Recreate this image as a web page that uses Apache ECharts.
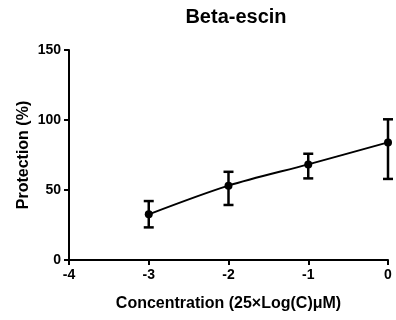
<!DOCTYPE html>
<html>
<head>
<meta charset="utf-8">
<script src="https://cdn.jsdelivr.net/npm/echarts@6/dist/echarts.min.js"></script>
<style>
  html, body { margin: 0; padding: 0; background: #fff; }
  #chart { width: 396px; height: 320px; }
</style>
</head>
<body>
<div id="chart"></div>
<script>
const concentration = [-3, -2, -1, 0]
const protection = [32.6, 53.1, 68.3, 84.0]
const errUpper = [42.1, 63.0, 75.9, 100.5]
const errLower = [23.3, 39.3, 58.3, 57.9]

const font = 'Liberation Sans, Arial, sans-serif'
const chart = echarts.init(document.getElementById('chart'))

const option = {
  backgroundColor: '#ffffff',
  animation: false,
  title: {
    text: 'Beta-escin',
    left: 231,
    top: 2,
    textAlign: 'center',
    textStyle: { fontFamily: font, fontWeight: 'bold', fontSize: 20, color: '#000' }
  },
  grid: { left: 69, right: 8, top: 50, bottom: 60 },
  xAxis: {
    type: 'value',
    min: -4,
    max: 0,
    interval: 1,
    name: 'Concentration (25×Log(C)μM)',
    nameLocation: 'middle',
    nameGap: 36,
    nameMoveOverlap: false,
    nameTextStyle: { fontFamily: font, fontWeight: 'bold', fontSize: 16, color: '#000' },
    axisLine: { onZero: false, lineStyle: { color: '#000', width: 2 } },
    axisTick: { length: 5, lineStyle: { color: '#000', width: 2 } },
    axisLabel: { fontFamily: font, fontWeight: 'bold', fontSize: 14, color: '#000', margin: 8 },
    splitLine: { show: false }
  },
  yAxis: {
    type: 'value',
    min: 0,
    max: 150,
    interval: 50,
    name: 'Protection (%)',
    nameLocation: 'middle',
    nameGap: 37,
    nameMoveOverlap: false,
    nameTextStyle: { fontFamily: font, fontWeight: 'bold', fontSize: 16, color: '#000' },
    axisLine: { show: true, onZero: false, lineStyle: { color: '#000', width: 2 } },
    axisTick: { show: true, length: 5, lineStyle: { color: '#000', width: 2 } },
    axisLabel: { fontFamily: font, fontWeight: 'bold', fontSize: 14, color: '#000', margin: 8 },
    splitLine: { show: false }
  },
  series: [
    {
      type: 'line',
      smooth: 0.3,
      symbol: 'circle',
      symbolSize: 8,
      itemStyle: { color: '#000' },
      lineStyle: { color: '#000', width: 2 },
      data: concentration.map((c, i) => [c, protection[i]])
    },
    {
      type: 'custom',
      clip: false,
      data: concentration.map((c, i) => [c, errUpper[i], errLower[i]]),
      renderItem: function (params, api) {
        const x = api.value(0)
        const hi = api.coord([x, api.value(1)])
        const lo = api.coord([x, api.value(2)])
        const w = 5
        const style = { stroke: '#000', lineWidth: 2.5 }
        return {
          type: 'group',
          children: [
            { type: 'line', shape: { x1: hi[0], y1: hi[1], x2: lo[0], y2: lo[1] }, style: style },
            { type: 'line', shape: { x1: hi[0] - w, y1: hi[1], x2: hi[0] + w, y2: hi[1] }, style: style },
            { type: 'line', shape: { x1: lo[0] - w, y1: lo[1], x2: lo[0] + w, y2: lo[1] }, style: style }
          ]
        }
      }
    }
  ]
}
chart && chart.setOption(option)
</script>
</body>
</html>
